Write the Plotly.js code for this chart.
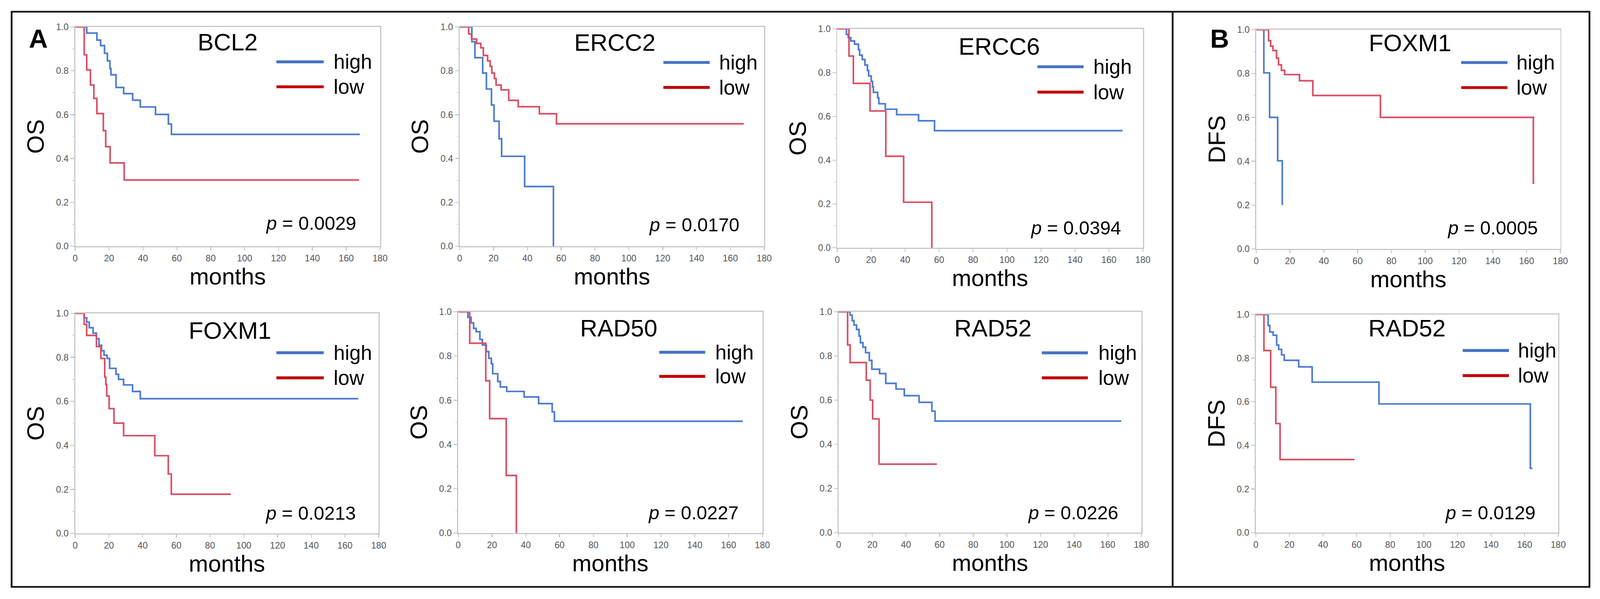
<!DOCTYPE html>
<html>
<head>
<meta charset="utf-8">
<script src="https://cdn.plot.ly/plotly-3.0.1.min.js"></script>
<style>html,body{margin:0;padding:0;background:#fff;overflow:hidden;}#chart{position:absolute;left:0;top:0;}</style>
</head>
<body>
<div id="chart"></div>
<script>
// ---------- DATA (Kaplan-Meier steps) ----------
const xTicks = [0, 20, 40, 60, 80, 100, 120, 140, 160, 180];
const yTicks = [0.0, 0.2, 0.4, 0.6, 0.8, 1.0];
const genes = ['BCL2', 'ERCC2', 'ERCC6', 'FOXM1', 'FOXM1', 'RAD50', 'RAD52', 'RAD52'];
const endpoints = ['OS', 'OS', 'OS', 'DFS', 'OS', 'OS', 'OS', 'DFS'];
const pValues = ['0.0029', '0.0170', '0.0394', '0.0005', '0.0213', '0.0227', '0.0226', '0.0129'];
const groupNames = ['high', 'low'];

// BCL2 (OS)
const bcl2HighT = [0, 6.8, 12.8, 15, 17.3, 19, 20.5, 21.1, 24.1, 28.6, 33.9, 38.4, 47.4, 55.0, 56.8, 168];
const bcl2HighS = [1, 0.972, 0.94, 0.915, 0.88, 0.845, 0.81, 0.782, 0.724, 0.696, 0.666, 0.635, 0.601, 0.557, 0.51, 0.51];
const bcl2LowT = [0, 5.3, 6.8, 9.0, 11.0, 12.8, 16.6, 18.0, 20.6, 28.9, 167.6];
const bcl2LowS = [1, 0.873, 0.804, 0.735, 0.674, 0.605, 0.527, 0.454, 0.38, 0.302, 0.302];
// ERCC2 (OS)
const ercc2HighT = [0, 7.2, 9.0, 13.6, 15.8, 18.8, 20.3, 23.3, 24.8, 38.4, 55.4];
const ercc2HighS = [1, 0.933, 0.86, 0.79, 0.717, 0.644, 0.57, 0.49, 0.41, 0.272, 0.0];
const ercc2LowT = [0, 5.3, 7, 10, 12.5, 14, 16.5, 18, 19, 20.5, 21.5, 24.5, 29, 34.6, 47.1, 57.2, 167.9];
const ercc2LowS = [1, 0.968, 0.945, 0.925, 0.905, 0.87, 0.845, 0.82, 0.79, 0.765, 0.735, 0.713, 0.665, 0.636, 0.604, 0.558, 0.558];
// ERCC6 (OS)
const ercc6HighT = [0, 5.4, 6.5, 8, 10.2, 12.5, 13.2, 14.7, 16.3, 17.8, 18.5, 20, 20.8, 21.3, 23.8, 24.5, 28.3, 35, 47.9, 57.3, 168];
const ercc6HighS = [1, 0.975, 0.96, 0.945, 0.93, 0.905, 0.88, 0.86, 0.835, 0.81, 0.785, 0.76, 0.735, 0.71, 0.685, 0.658, 0.633, 0.608, 0.58, 0.535, 0.535];
const ercc6LowT = [0, 6.9, 9.5, 19.3, 28.6, 39.1, 55.7];
const ercc6LowS = [1, 0.876, 0.751, 0.625, 0.418, 0.208, 0.0];
// FOXM1 (DFS)
const foxm1DfsHighT = [0, 4.5, 7.9, 12.7, 15.4];
const foxm1DfsHighS = [1, 0.803, 0.6, 0.402, 0.2];
const foxm1DfsLowT = [0, 7.3, 8.5, 9.9, 12, 13.2, 14.9, 16.8, 25.6, 33.5, 73.5, 164, 164.6];
const foxm1DfsLowS = [1, 0.95, 0.925, 0.905, 0.87, 0.84, 0.815, 0.795, 0.767, 0.7, 0.6, 0.3, 0.3];
// FOXM1 (OS)
const foxm1OsHighT = [0, 5.3, 6.8, 8.3, 10.6, 12.6, 14.1, 15.6, 17.1, 18.9, 20.4, 24.2, 25.7, 28.7, 34, 38.6, 167.9];
const foxm1OsHighS = [1, 0.98, 0.96, 0.935, 0.91, 0.885, 0.855, 0.83, 0.81, 0.795, 0.75, 0.723, 0.7, 0.675, 0.645, 0.612, 0.612];
const foxm1OsLowT = [0, 5.3, 6.8, 12.6, 15.2, 17.5, 18.2, 18.7, 20.1, 23.0, 28.7, 47.2, 55.2, 57.0, 92.3];
const foxm1OsLowS = [1, 0.95, 0.9, 0.849, 0.795, 0.71, 0.676, 0.624, 0.567, 0.501, 0.444, 0.353, 0.27, 0.178, 0.178];
// RAD50 (OS)
const rad50HighT = [0, 5.7, 7.6, 9.1, 10.6, 12.8, 14.3, 16.6, 18.1, 19.6, 20.4, 23.4, 24.9, 28.7, 39, 47.6, 55.6, 56.9, 168.4];
const rad50HighS = [1, 0.975, 0.95, 0.925, 0.91, 0.875, 0.85, 0.82, 0.79, 0.765, 0.72, 0.685, 0.66, 0.64, 0.615, 0.585, 0.548, 0.505, 0.505];
const rad50LowT = [0, 6.8, 16.3, 18.6, 28.4, 34.4];
const rad50LowS = [1, 0.858, 0.688, 0.517, 0.26, 0.0];
// RAD52 (OS)
const rad52OsHighT = [0, 6.8, 8, 9.1, 10.6, 12.1, 12.9, 14.4, 16, 18.2, 19.7, 24.3, 28, 34.1, 39, 47.8, 55.4, 57.3, 168];
const rad52OsHighS = [1, 0.985, 0.96, 0.94, 0.92, 0.89, 0.86, 0.84, 0.815, 0.78, 0.74, 0.72, 0.676, 0.65, 0.62, 0.59, 0.55, 0.505, 0.505];
const rad52OsLowT = [0, 5.3, 6.8, 16.4, 18.7, 20.2, 24.0, 58.4];
const rad52OsLowS = [1, 0.85, 0.77, 0.69, 0.6, 0.515, 0.31, 0.31];
// RAD52 (DFS)
const rad52DfsHighT = [0, 7.3, 8.3, 10.3, 12.4, 13.6, 15.3, 16.9, 25.5, 33.5, 73.3, 163.4, 164.6];
const rad52DfsHighS = [1, 0.95, 0.92, 0.905, 0.86, 0.84, 0.815, 0.79, 0.76, 0.69, 0.59, 0.295, 0.295];
const rad52DfsLowT = [0, 4.8, 8.8, 11.9, 14.4, 58.7];
const rad52DfsLowS = [1, 0.835, 0.667, 0.5, 0.335, 0.335];

// ---------- series table built from the arrays ----------
const series = [
  [bcl2HighT, bcl2HighS, bcl2LowT, bcl2LowS],
  [ercc2HighT, ercc2HighS, ercc2LowT, ercc2LowS],
  [ercc6HighT, ercc6HighS, ercc6LowT, ercc6LowS],
  [foxm1DfsHighT, foxm1DfsHighS, foxm1DfsLowT, foxm1DfsLowS],
  [foxm1OsHighT, foxm1OsHighS, foxm1OsLowT, foxm1OsLowS],
  [rad50HighT, rad50HighS, rad50LowT, rad50LowS],
  [rad52OsHighT, rad52OsHighS, rad52OsLowT, rad52OsLowS],
  [rad52DfsHighT, rad52DfsHighS, rad52DfsLowT, rad52DfsLowS]
];

// ---------- LAYOUT (reference-pixel boxes of each plot area, turned into fractions) ----------
const RW = 4403, RH = 1533;
const VW = window.innerWidth || RW, VH = window.innerHeight || RH;
const S = Math.min(VW / RW, VH / RH);   // scale for pixel sizes
const px = v => v * S;

const boxes = [
  [207, 1046, 69, 630], [1265, 2103, 69, 630], [2304, 3145, 74, 634], [3457, 4294, 76, 637],
  [207, 1042, 802, 1365], [1261, 2098, 798, 1364], [2308, 3141, 798, 1363], [3456, 4288, 805, 1363]
];
// per panel: title x, title y, legend line x0, x1, text x, high y, low y, p x, p y (axis-domain fractions)
const deco = [
  [0.50, 0.932, 0.660, 0.815, 0.845, 0.841, 0.727, 0.924, 0.105],
  [0.51, 0.929, 0.669, 0.821, 0.849, 0.838, 0.724, 0.921, 0.098],
  [0.53, 0.921, 0.655, 0.806, 0.835, 0.827, 0.711, 0.931, 0.091],
  [0.505, 0.941, 0.674, 0.826, 0.853, 0.850, 0.736, 0.929, 0.096],
  [0.51, 0.922, 0.663, 0.819, 0.849, 0.821, 0.707, 0.928, 0.092],
  [0.528, 0.927, 0.661, 0.812, 0.843, 0.817, 0.708, 0.925, 0.092],
  [0.51, 0.927, 0.671, 0.823, 0.855, 0.814, 0.701, 0.927, 0.090],
  [0.50, 0.938, 0.684, 0.837, 0.864, 0.835, 0.720, 0.928, 0.091]
];

const FONT = 'Liberation Sans, Arial, sans-serif';
const curveColors = ['#4c7cd4', '#da5064'];
const legendColors = ['#4472c4', '#c00000'];

const chartDiv = document.getElementById('chart');
chartDiv.style.width = VW + 'px';
chartDiv.style.height = VH + 'px';

const traces = [];
const layout = {
  width: VW, height: VH,
  margin: {l: 0, r: 0, t: 0, b: 0, pad: 0},
  paper_bgcolor: '#ffffff', plot_bgcolor: '#ffffff',
  showlegend: false,
  font: {family: FONT, color: '#000'},
  annotations: [], shapes: []
};

series.forEach((s, i) => {
  const n = i + 1;
  const suf = n === 1 ? '' : String(n);
  const xa = 'x' + suf, ya = 'y' + suf;
  const b = boxes[i], d = deco[i];
  [0, 1].forEach(g => {
    traces.push({
      type: 'scatter', mode: 'lines', name: groupNames[g],
      x: s[g * 2], y: s[g * 2 + 1], xaxis: xa, yaxis: ya,
      line: {shape: 'hv', color: curveColors[g], width: px(4.5)},
      hoverinfo: 'skip'
    });
  });
  layout['xaxis' + suf] = {
    domain: [b[0] / RW, b[1] / RW], anchor: ya,
    range: [0, 180], tickvals: xTicks, ticktext: xTicks.map(String),
    ticks: 'outside', ticklen: px(9), tickwidth: px(2.5), tickcolor: '#c4c4c4',
    ticklabelstandoff: px(5),
    showline: true, linecolor: '#c8c8c8', linewidth: px(3), mirror: true,
    showgrid: false, zeroline: false, fixedrange: true,
    tickfont: {family: FONT, size: px(25), color: '#555555'},
    title: {text: 'months', font: {family: FONT, size: px(64), color: '#000'}, standoff: px(8)},
    automargin: false
  };
  layout['yaxis' + suf] = {
    domain: [1 - b[3] / RH, 1 - b[2] / RH], anchor: xa,
    range: [0, 1], tickvals: yTicks, ticktext: yTicks.map(v => v.toFixed(1)),
    ticks: 'outside', ticklen: px(10), tickwidth: px(2.5), tickcolor: '#c4c4c4',
    minor: {dtick: 0.1, ticks: 'outside', ticklen: px(5), tickcolor: '#cfcfcf', tickwidth: px(2)},
    ticklabelstandoff: px(13),
    showline: true, linecolor: '#c8c8c8', linewidth: px(3), mirror: true,
    showgrid: false, zeroline: false, fixedrange: true,
    tickfont: {family: FONT, size: px(25), color: '#555555'},
    title: {text: endpoints[i], font: {family: FONT, size: px(66), color: '#000'}, standoff: px(12)},
    automargin: false
  };
  // gene title
  layout.annotations.push({
    xref: xa + ' domain', yref: ya + ' domain', x: d[0], y: d[1],
    xanchor: 'center', yanchor: 'middle', showarrow: false,
    text: genes[i], font: {family: FONT, size: px(66), color: '#000'}
  });
  // legend (drawn by hand: long line keys)
  groupNames.forEach((gname, g) => {
    const yy = g === 0 ? d[5] : d[6];
    layout.shapes.push({
      type: 'line', xref: xa + ' domain', yref: ya + ' domain',
      x0: d[2], x1: d[3], y0: yy, y1: yy,
      line: {color: legendColors[g], width: px(8)}
    });
    layout.annotations.push({
      xref: xa + ' domain', yref: ya + ' domain', x: d[4], y: yy,
      xanchor: 'left', yanchor: 'middle', showarrow: false,
      text: gname, font: {family: FONT, size: px(56), color: '#000'}
    });
  });
  // p value
  layout.annotations.push({
    xref: xa + ' domain', yref: ya + ' domain', x: d[7], y: d[8],
    xanchor: 'right', yanchor: 'middle', showarrow: false,
    text: '<i>p</i> = ' + pValues[i], font: {family: FONT, size: px(52), color: '#000'}
  });
});

// panel letters
layout.annotations.push({xref: 'paper', yref: 'paper', x: 77 / RW, y: 1 - 98 / RH, xanchor: 'left', yanchor: 'middle', showarrow: false,
  text: '<b>A</b>', font: {family: FONT, size: px(72), color: '#000'}});
layout.annotations.push({xref: 'paper', yref: 'paper', x: 3328 / RW, y: 1 - 98 / RH, xanchor: 'left', yanchor: 'middle', showarrow: false,
  text: '<b>B</b>', font: {family: FONT, size: px(72), color: '#000'}});

// outer frame and A/B separator
layout.shapes.push({type: 'rect', xref: 'paper', yref: 'paper', x0: 32 / RW, x1: 4374 / RW, y0: 1 - 1502 / RH, y1: 1 - 30 / RH,
  line: {color: '#1a1a1a', width: px(5)}, fillcolor: 'rgba(0,0,0,0)'});
layout.shapes.push({type: 'line', xref: 'paper', yref: 'paper', x0: 3227 / RW, x1: 3227 / RW, y0: 1 - 1502 / RH, y1: 1 - 30 / RH,
  line: {color: '#1a1a1a', width: px(5)}});

Plotly.newPlot(chartDiv, traces, layout, {staticPlot: true, displayModeBar: false});
</script>
</body>
</html>
